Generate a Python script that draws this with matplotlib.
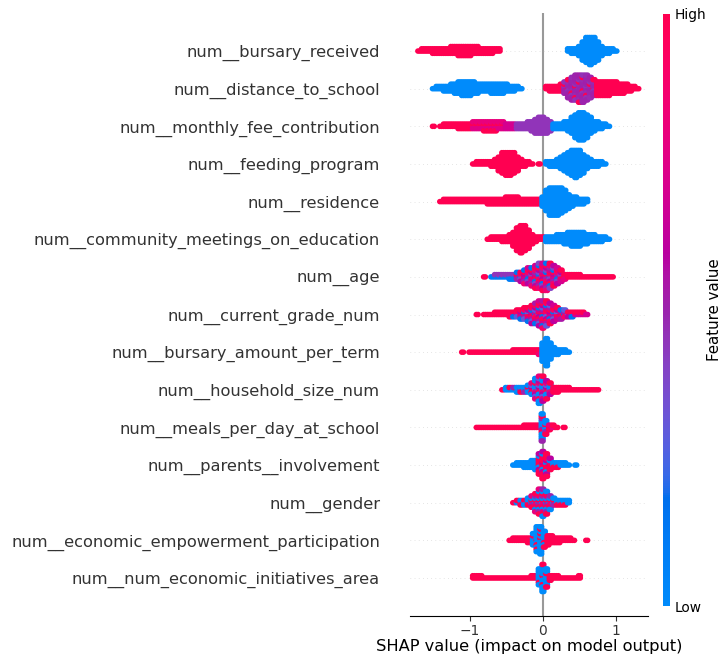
"""
SHAP beeswarm summary for the school-retention model.

Each feature row is described by segments of (first x, dot count per
0.05-wide column, feature values cycled over the dots in that segment).
"""

import numpy as np
import matplotlib.pyplot as plt
from matplotlib.colors import LinearSegmentedColormap

STEP = 0.05

features = [
    "num__bursary_received",
    "num__distance_to_school",
    "num__monthly_fee_contribution",
    "num__feeding_program",
    "num__residence",
    "num__community_meetings_on_education",
    "num__age",
    "num__current_grade_num",
    "num__bursary_amount_per_term",
    "num__household_size_num",
    "num__meals_per_day_at_school",
    "num__parents__involvement",
    "num__gender",
    "num__economic_empowerment_participation",
    "num__num_economic_initiatives_area",
]

bursary_received = [
    (-1.70, [1, 2, 2, 2, 3, 3, 3, 3, 3, 4, 4, 5, 5, 5, 5, 4, 4, 3, 3, 3, 3, 2, 2], (1.0,)),
    (0.35, [2, 3, 3, 5, 9, 12, 13, 12, 9, 5, 3, 3, 2, 1], (0.0,)),
]
distance_to_school = [
    (-1.50, [1, 2, 2, 3, 3, 4, 5, 6, 7, 7, 7, 6, 5, 4, 4, 4, 5, 5, 5, 5, 4, 3, 3, 2, 1], (0.0,)),
    (0.05, [2, 3, 3, 3, 4], (1.0,)),
    (0.30, [6, 9, 11, 12, 13, 13, 12, 10, 8], (0.5, 0.48, 0.52, 1.0, 0.5, 0.46, 0.5)),
    (0.75, [7, 7, 7, 7, 6, 6, 5, 5, 4, 3, 2, 1], (1.0,)),
]
monthly_fee_contribution = [
    (-1.50, [1], (1.0,)),
    (-1.40, [1, 2, 2, 2, 2, 3, 3, 3, 3], (1.0,)),
    (-0.95, [4, 4, 4, 5, 5, 5, 5, 4, 4], (0.8, 1.0, 0.75)),
    (-0.50, [3, 3, 3], (0.7,)),
    (-0.35, [3, 3, 3, 4, 5, 7, 8, 8, 7, 5], (0.45,)),
    (0.15, [3, 3, 3, 4, 5, 8, 11, 13, 13, 11, 8, 5, 4, 3, 2, 1], (0.0,)),
]
feeding_program = [
    (-0.95, [1, 2, 2, 2, 2, 3, 4, 7, 10, 11, 11, 10, 7, 4, 3, 2, 1], (1.0,)),
    (-0.05, [1], (1.0,)),
    (0.05, [2, 3, 3, 4, 6, 8, 10, 12, 13, 12, 9, 6, 4, 3, 3, 2, 1], (0.0,)),
]
residence = [
    (-1.40, [1, 2, 2, 2, 2, 2, 2, 2, 2, 2, 2, 2, 2, 3, 3, 3, 3, 3,
             4, 4, 4, 4, 3, 3, 3, 3, 3, 3], (1.0,)),
    (0.00, [5, 10, 13, 13, 13, 12, 10, 7, 5, 4, 3, 3, 2], (0.0,)),
]
community_meetings = [
    (-0.75, [1, 2, 2, 2, 3, 3, 4, 7, 11, 13, 12, 9, 5, 3, 2, 2], (1.0,)),
    (0.05, [3, 3, 3, 4, 4, 5, 6, 7, 7, 7, 6, 5, 4, 4, 3, 3, 2, 1], (0.0,)),
]
age = [
    (-0.80, [1], (1.0,)),
    (-0.70, [1, 2, 2, 2, 2, 3, 3], (0.1, 0.45, 0.1)),
    (-0.35, [4, 5, 7, 8, 9, 11, 12, 13, 13, 12, 10, 8, 6],
     (0.7, 1.0, 0.5, 0.15, 0.85, 0.4, 1.0, 0.6)),
    (0.30, [3, 2, 2, 2, 2, 1, 1, 1, 1, 1, 1, 1, 1, 1], (1.0, 1.0, 0.8)),
]
current_grade_num = [
    (-0.90, [1], (1.0,)),
    (-0.80, [1, 1], (1.0,)),
    (-0.70, [1, 2, 2, 2, 2, 3], (1.0,)),
    (-0.40, [3, 4, 5, 6, 7, 9, 10, 12, 13, 12, 10, 8, 6, 5, 4, 3, 3],
     (0.7, 1.0, 0.15, 0.55, 0.9, 0.3, 1.0, 0.6)),
    (0.45, [2, 2, 2, 1], (0.7, 1.0, 0.4)),
]
bursary_amount_per_term = [
    (-1.10, [1], (1.0,)),
    (-1.00, [1, 1, 1, 1, 1, 1, 1, 1, 1, 1, 1, 1, 2, 2, 2, 2, 2, 2, 2, 3], (1.0, 1.0, 0.85)),
    (0.00, [9, 13, 8], (0.0,)),
    (0.15, [4, 3, 2, 2, 1], (0.0,)),
]
household_size_num = [
    (-0.55, [1], (1.0,)),
    (-0.50, [2, 2, 2, 3, 3, 3, 4], (0.0, 0.0, 0.5, 0.0, 1.0)),
    (-0.15, [6, 10, 13, 12, 9, 6], (0.0, 0.6, 1.0, 0.3, 0.0, 0.8)),
    (0.15, [3, 3, 2, 2, 2, 1, 1, 1, 1, 1, 1, 1, 1], (1.0,)),
]
meals_per_day_at_school = [
    (-0.90, [1, 1, 1, 1, 1, 1, 1, 1, 1, 1, 1, 1, 1, 2, 2, 2, 2, 2], (1.0,)),
    (-0.01, [13, 7], (0.0, 0.0, 0.5, 0.0, 1.0)),
    (0.09, [3, 2, 1], (1.0, 0.8)),
    (0.29, [1], (1.0,)),
]
parents_involvement = [
    (-0.40, [1, 2, 2, 3, 3, 4, 5], (0.0,)),
    (-0.05, [10, 13, 11, 6], (1.0, 1.0, 0.0, 1.0, 0.6)),
    (0.15, [3, 3, 2, 2, 1], (0.0, 0.0, 1.0)),
    (0.45, [1], (0.0,)),
]
gender = [
    (-0.40, [1, 2, 3, 3, 4], (1.0, 0.0, 1.0, 0.0)),
    (-0.15, [6, 9, 12, 13, 11, 7, 4], (0.0, 1.0, 0.5, 0.0, 1.0, 0.8)),
    (0.20, [3, 3, 3, 2], (0.0, 0.0, 1.0)),
]
economic_empowerment = [
    (-0.45, [1, 2, 2, 2, 2, 3], (1.0,)),
    (-0.13, [6, 12, 13, 8], (0.0, 0.0, 0.0, 1.0)),
    (0.07, [5, 4, 3, 3, 2, 2, 2, 1], (1.0,)),
    (0.60, [1], (1.0,)),
]
economic_initiatives = [
    (-0.95, [2, 2, 2, 1, 1, 1, 1, 1, 1, 1, 1, 1, 1, 1, 1, 1, 2, 2], (1.0,)),
    (-0.05, [8, 13, 9], (0.0, 0.0, 0.0, 0.0, 1.0)),
    (0.10, [3, 2, 2, 1, 1, 1, 1, 1, 2], (1.0,)),
]

rows = [
    bursary_received, distance_to_school, monthly_fee_contribution,
    feeding_program, residence, community_meetings, age, current_grade_num,
    bursary_amount_per_term, household_size_num, meals_per_day_at_school,
    parents_involvement, gender, economic_empowerment, economic_initiatives,
]


def _lch_to_rgb(l, c, h):
    """CIE LCh (D65) -> sRGB in [0, 1]."""
    a, b = c * np.cos(h), c * np.sin(h)
    fy = (l + 16) / 116
    f = np.array([fy + a / 500, fy, fy - b / 200])
    d = 6 / 29
    xyz = np.where(f > d, f ** 3, 3 * d * d * (f - 4 / 29)) * np.array([0.95047, 1.0, 1.08883])
    m = np.array([[3.2406, -1.5372, -0.4986],
                  [-0.9689, 1.8758, 0.0415],
                  [0.0557, -0.2040, 1.0570]])
    lin = m @ xyz
    rgb = np.where(lin > 0.0031308, 1.055 * np.abs(lin) ** (1 / 2.4) - 0.055, 12.92 * lin)
    return np.clip(rgb, 0, 1)


def _red_blue():
    """Blue -> purple -> red map, walked through LCh like shap's default."""
    blue_lch = [54.0, 70.0, 4.6588]
    red_lch = [54.0, 90.0, 0.35470565 + 2 * np.pi]
    l_mid = 40.0
    n = 100
    l_vals = list(np.linspace(blue_lch[0], l_mid, n // 2)) + list(np.linspace(l_mid, red_lch[0], n // 2))
    c_vals = np.linspace(blue_lch[1], red_lch[1], n)
    h_vals = np.linspace(blue_lch[2], red_lch[2], n)
    cols = [_lch_to_rgb(l, c, h) for l, c, h in zip(l_vals, c_vals, h_vals)]
    return LinearSegmentedColormap.from_list("red_blue", cols)


red_blue = _red_blue()
axis_color = "#333333"

fig = plt.figure(figsize=(7.21, 6.58), dpi=100)
ax = fig.add_axes([0.5687, 0.0644, 0.3301, 0.9152])
cax = fig.add_axes([0.9196, 0.079, 0.0097, 0.900])

ax.axvline(0, color="#999999", zorder=-1)

n_rows = len(features)
for i, segs in enumerate(rows):
    ypos = n_rows - 1 - i
    ax.axhline(ypos, color="#cccccc", lw=0.5, dashes=(1, 5), zorder=-1)

    xs, offs, vals = [], [], []
    for x0, counts, cyc in segs:
        for j, cnt in enumerate(counts):
            xc = x0 + j * STEP
            for layer in range(cnt):
                off = np.ceil(layer / 2) * ((layer % 2) * 2 - 1)
                v = cyc[(3 * j + layer) % len(cyc)]
                # spread each layer across its bin so the swarm reads as a solid band
                for dx in (-STEP / 4, STEP / 4):
                    xs.append(xc + dx)
                    offs.append(off)
                    vals.append(v)
    offs = np.array(offs, dtype=float)
    offs *= 0.36 / max(np.abs(offs).max(), 1)
    ax.scatter(xs, ypos + offs, c=vals, cmap=red_blue, vmin=0, vmax=1,
               s=16, linewidths=0, rasterized=True)

ax.set_xlim(-1.82, 1.44)
ax.set_ylim(-1, n_rows)
ax.set_xticks([-1, 0, 1])
ax.set_yticks(range(n_rows))
ax.set_yticklabels(features[::-1], fontsize=11.7, color=axis_color)
ax.tick_params(axis="y", length=0, pad=21.6)
ax.tick_params(axis="x", labelsize=9.9, pad=2.5, color=axis_color, labelcolor=axis_color)
for side in ("top", "right", "left"):
    ax.spines[side].set_visible(False)
ax.set_xlabel("SHAP value (impact on model output)", fontsize=11.7, labelpad=0.5)

sm = plt.cm.ScalarMappable(cmap=red_blue, norm=plt.Normalize(0, 1))
cb = fig.colorbar(sm, cax=cax, ticks=[0, 1])
cb.set_ticklabels(["Low", "High"])
cb.set_label("Feature value", size=10.8, labelpad=0)
cb.ax.tick_params(labelsize=9.9, length=0)
cb.outline.set_visible(False)

fig.savefig("out.png", dpi=100)
